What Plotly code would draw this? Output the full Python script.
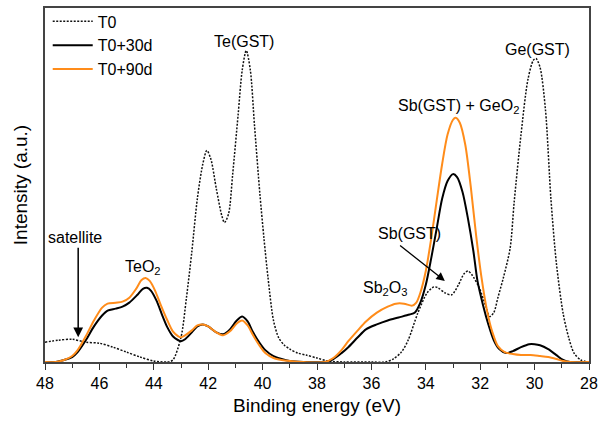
import plotly.graph_objects as go

# ---- data (binding energy eV, intensity a.u.) ----
t0_e = [48.0, 47.5, 47.0, 46.5, 46.0, 45.5, 45.0, 44.5, 44.0, 43.5, 43.3, 43.0, 42.8, 42.6, 42.4,
        42.2, 42.05, 41.9, 41.7, 41.5, 41.4, 41.25, 41.1, 40.9, 40.75, 40.6, 40.45, 40.3, 40.1,
        39.95, 39.8, 39.6, 39.4, 39.2, 39.0, 38.7, 38.4, 38.0, 37.6, 37.0, 36.0, 35.5, 35.2, 34.9,
        34.65, 34.3, 33.95, 33.7, 33.55, 33.3, 33.05, 32.8, 32.6, 32.45, 32.3, 32.05, 31.8, 31.65,
        31.5, 31.35, 31.15, 30.9, 30.75, 30.5, 30.25, 30.05, 29.95, 29.8, 29.6, 29.4, 29.2, 28.95,
        28.75, 28.55, 28.3, 28.0]
t0_i = [20, 22, 23, 20, 19, 15, 10, 5, 1, 0, 2, 25, 65, 112, 165,
        200, 214, 205, 175, 148, 141, 150, 190, 250, 295, 315, 295, 240, 170,
        125, 85, 42, 24, 17, 13, 9, 7, 4, 1, 0, 0, 0, 3, 10,
        22, 49, 70, 76, 75, 70, 68, 78, 89, 92, 88, 76, 57, 46,
        50, 65, 85, 115, 162, 230, 285, 305, 307, 298, 255, 165, 100, 49,
        25, 9, 2, 0]

d30_e = [48.0, 47.6, 47.3, 47.0, 46.8, 46.5, 46.2, 45.9, 45.7, 45.4, 45.15, 44.9, 44.6, 44.4, 44.25,
         44.1, 43.9, 43.7, 43.5, 43.3, 43.1, 43.0, 42.85, 42.6, 42.4, 42.2, 42.0, 41.7, 41.45, 41.2,
         40.95, 40.75, 40.55, 40.35, 40.1, 39.9, 39.6, 39.3, 39.0, 38.5, 37.7, 37.4, 37.1, 36.85,
         36.5, 36.2, 35.8, 35.4, 35.0, 34.6, 34.4, 34.2, 34.0, 33.8, 33.6, 33.4, 33.2, 33.0, 32.85,
         32.65, 32.45, 32.25, 32.1, 31.9, 31.7, 31.5, 31.3, 31.05, 30.8, 30.5, 30.2, 30.0, 29.8,
         29.5, 29.2, 28.95, 28.7, 28.0]
d30_i = [0, 0, 2, 5, 10, 22, 36, 47, 52, 54, 56, 60, 68, 74, 75,
         72, 62, 48, 35, 26, 22, 21, 23, 30, 36, 38, 36, 30, 28, 33,
         42, 46, 41, 30, 19, 12, 6, 3, 1, 0, 0, 3, 9, 15,
         25, 33, 38, 42, 45, 48, 50, 60, 78, 105, 135, 165, 183, 190, 187,
         172, 145, 112, 82, 58, 38, 22, 13, 9, 11, 15, 18, 18, 17,
         13, 7, 2, 0, 0]

d90_e = [48.0, 47.6, 47.3, 47.0, 46.8, 46.5, 46.2, 45.9, 45.7, 45.4, 45.15, 44.9, 44.65, 44.45, 44.3,
         44.15, 43.95, 43.75, 43.5, 43.3, 43.1, 43.0, 42.85, 42.6, 42.4, 42.2, 42.0, 41.7, 41.45, 41.2,
         40.95, 40.75, 40.55, 40.35, 40.1, 39.9, 39.6, 39.3, 39.0, 38.5, 37.7, 37.4, 37.1, 36.85,
         36.5, 36.2, 35.8, 35.4, 35.1, 34.8, 34.5, 34.35, 34.2, 34.0, 33.8, 33.6, 33.4, 33.2, 33.0,
         32.9, 32.75, 32.55, 32.35, 32.15, 31.95, 31.75, 31.55, 31.35, 31.1, 30.8, 30.5, 30.15, 29.8,
         29.5, 29.2, 28.95, 28.7, 28.0]
d90_i = [0, 0, 2, 6, 12, 26, 42, 55, 59, 60, 61, 65, 74, 83, 85,
         82, 72, 58, 42, 31, 26, 25, 27, 32, 37, 38, 36, 30, 27, 31,
         39, 42, 37, 27, 16, 9, 4, 2, 1, 0, 0, 4, 12, 21,
         32, 41, 50, 56, 59, 59, 57, 60, 70, 92, 125, 163, 200, 230, 245,
         247, 242, 220, 178, 128, 85, 52, 30, 16, 10, 8, 7, 7, 6,
         5, 3, 1, 0, 0]

series_names = ["T0", "T0+30d", "T0+90d"]
x_tick_vals = [48, 46, 44, 42, 40, 38, 36, 34, 32, 30, 28]

FONT = "Liberation Sans, Arial, sans-serif"

fig = go.Figure()
fig.add_trace(go.Scatter(x=t0_e, y=t0_i, name=series_names[0], mode="lines",
                         line=dict(color="#111111", width=1.5, dash="2px,1.5px", shape="spline", smoothing=0.8)))
fig.add_trace(go.Scatter(x=d30_e, y=d30_i, name=series_names[1], mode="lines",
                         line=dict(color="#000000", width=2, shape="spline", smoothing=0.8)))
fig.add_trace(go.Scatter(x=d90_e, y=d90_i, name=series_names[2], mode="lines",
                         line=dict(color="#FF8C1A", width=2, shape="spline", smoothing=0.8)))

ann_font = dict(family=FONT, size=16, color="#000000")
fig.add_annotation(x=40.7, y=324, text="Te(GST)", showarrow=False, font=ann_font)
fig.add_annotation(x=29.9, y=316, text="Ge(GST)", showarrow=False, font=ann_font)
fig.add_annotation(x=32.8, y=258, text="Sb(GST) + GeO<sub>2</sub>", showarrow=False, font=ann_font)
fig.add_annotation(x=44.4, y=96, text="TeO<sub>2</sub>", showarrow=False, font=ann_font)
fig.add_annotation(x=35.5, y=74, text="Sb<sub>2</sub>O<sub>3</sub>", showarrow=False, font=ann_font)
fig.add_annotation(x=46.9, y=126, text="satellite", showarrow=False, font=ann_font)
fig.add_annotation(x=34.6, y=130, text="Sb(GST)", showarrow=False, font=ann_font)
# arrows
fig.add_annotation(x=46.78, y=25, ax=46.78, ay=117, xref="x", yref="y", axref="x", ayref="y",
                   text="", showarrow=True, arrowhead=2, arrowsize=1.3, arrowwidth=1.5, arrowcolor="#000")
fig.add_annotation(x=33.3, y=82, ax=35.0, ay=119, xref="x", yref="y", axref="x", ayref="y",
                   text="", showarrow=True, arrowhead=2, arrowsize=1.3, arrowwidth=1.3, arrowcolor="#000")

fig.update_layout(
    width=602, height=426,
    margin=dict(l=45, r=11, t=4, b=64),
    paper_bgcolor="white", plot_bgcolor="white",
    font=dict(family=FONT, color="#000000"),
    showlegend=True,
    legend=dict(x=0.005, y=1.01, xanchor="left", yanchor="top", bgcolor="rgba(0,0,0,0)",
                font=dict(family=FONT, size=16), tracegroupgap=0, itemwidth=40),
)
fig.update_xaxes(
    range=[48, 28], tickvals=x_tick_vals, ticks="outside", ticklen=6, tickwidth=1.3,
    tickcolor="#333", showline=True, linecolor="#444", linewidth=1.5, mirror=True,
    showgrid=False, zeroline=False, tickfont=dict(family=FONT, size=16),
    minor=dict(dtick=1, ticks="outside", ticklen=4, tickcolor="#333", tickwidth=1.2),
    title=dict(text="Binding energy (eV)", font=dict(family=FONT, size=19), standoff=8),
)
fig.update_yaxes(
    range=[0, 358], showticklabels=False, ticks="", showline=True, linecolor="#444",
    linewidth=1.5, mirror=True, showgrid=False, zeroline=False,
    title=dict(text="Intensity (a.u.)", font=dict(family=FONT, size=19), standoff=11),
)

fig.write_html("out.html", post_script="document.body.style.margin='0';",
               config={"displayModeBar": False})
